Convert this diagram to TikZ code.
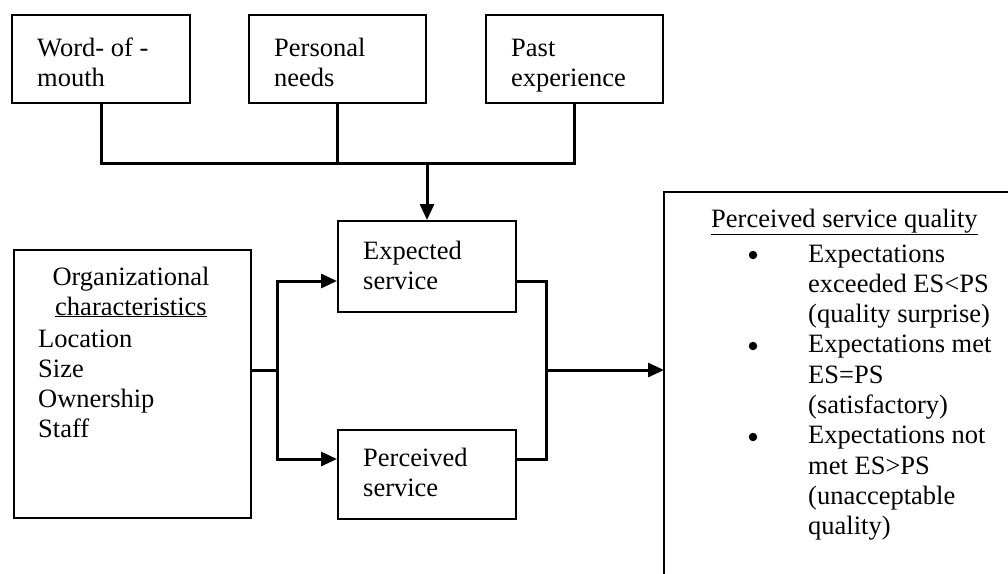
\documentclass[tikz,border=0pt]{standalone}
\usepackage{fontspec}
\setmainfont{Liberation Serif}
\usetikzlibrary{arrows.meta}
\begin{document}
\begin{tikzpicture}[x=1pt,y=-1pt,
  box/.style={draw, line width=2pt, rectangle, anchor=north west, inner sep=0pt},
  txt/.style={anchor=base west, inner sep=0pt, align=left, font=\fontsize{26.5}{30}\selectfont},
  dot/.style={circle, fill, inner sep=0pt, minimum size=8.5pt},
  conn/.style={line width=3pt},
  arr/.style={line width=3pt, -{Triangle[length=16pt,width=14pt]}}]
\useasboundingbox (0,0) rectangle (1008,573);
\fill[white] (0,0) rectangle (1008,573);
% top boxes
\node[box, minimum width=178pt, minimum height=88pt] (wom) at (11,14) {};
\node[box, minimum width=177pt, minimum height=88pt] (pn) at (248,14) {};
\node[box, minimum width=177pt, minimum height=88pt] (pe) at (485,14) {};
\node[txt] (twom) at (37,86) {Word- of -\\mouth};
\node[txt] (tpn) at (274,86) {Personal\\needs};
\node[txt] (tpe) at (511,86) {Past\\experience};
% middle boxes
\node[box, minimum width=178pt, minimum height=91pt] (es) at (337,220) {};
\node[box, minimum width=178pt, minimum height=89pt] (ps) at (337,429) {};
\node[txt] (tes) at (363,289) {Expected\\service};
\node[txt] (tps) at (363,496) {Perceived\\service};
% organizational box
\node[box, minimum width=237pt, minimum height=268pt] (org) at (13,249) {};
\node[txt, anchor=base, align=center] (torg) at (131,315) {Organizational\\\underline{characteristics}};
\node[txt] (tlist) at (38,437) {Location\\Size\\Ownership\\Staff};
% right box
\begin{scope}
\clip (0,0) rectangle (1008,573);
\draw[line width=2pt] (664,600) -- (664,192) -- (1020,192);
\end{scope}
\coordinate (psq) at (664,370);
\node[txt] (thead) at (711,227) {\underline{Perceived service quality}};
\node[dot] (b1) at (753,255) {};
\node[dot] (b2) at (753,346) {};
\node[dot] (b3) at (753,437) {};
\node[txt, font=\fontsize{26.5}{30.3}\selectfont] (tq) at (808,534.7) {Expectations\\exceeded ES<PS\\(quality surprise)\\Expectations met\\ES=PS\\(satisfactory)\\Expectations not\\met ES>PS\\(unacceptable\\quality)};
% connectors top
\coordinate (j) at (427,163);
\draw[conn] (wom.south) -- (wom.south |- j) -- (pe.south |- j) -- (pe.south);
\draw[conn] (pn.south) -- (pn.south |- j);
\draw[arr] (j) -- (j |- es.north);
% org to services
\coordinate (sp) at (277,370);
\draw[conn] (org.east |- sp) -- (sp);
\draw[arr] (sp) -- (sp |- 0,281) -- (es.west |- 0,281);
\draw[arr] (sp) -- (sp |- 0,459) -- (ps.west |- 0,459);
% services to quality
\coordinate (mj) at (546,370);
\draw[conn] (es.east |- 0,281) -- (mj |- 0,281) -- (mj |- 0,459) -- (ps.east |- 0,459);
\draw[arr] (mj) -- (psq);
\end{tikzpicture}
\end{document}
